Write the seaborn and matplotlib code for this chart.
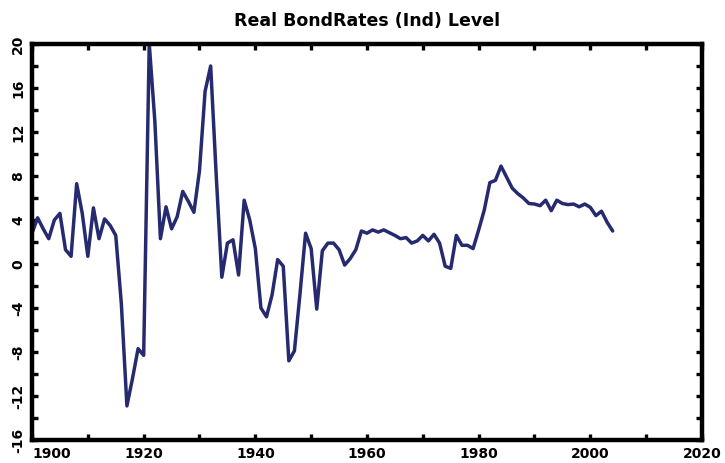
import numpy as np
import seaborn as sns
import matplotlib as mpl
import matplotlib.pyplot as plt
from matplotlib.ticker import MultipleLocator

years = list(range(1900, 2005))
rates = [
    2.8, 4.2, 3.2, 2.3, 4.0, 4.6, 1.3, 0.7, 7.3, 4.6,
    0.7, 5.1, 2.3, 4.1, 3.5, 2.6, -3.6, -12.9, -10.4, -7.7,
    -8.3, 20.0, 13.0, 2.3, 5.2, 3.2, 4.3, 6.6, 5.7, 4.7,
    8.5, 15.7, 18.0, 8.0, -1.2, 1.9, 2.2, -1.0, 5.8, 4.0,
    1.4, -4.0, -4.8, -2.8, 0.4, -0.2, -8.8, -7.9, -2.7, 2.8,
    1.4, -4.1, 1.2, 1.9, 1.9, 1.3, -0.1, 0.5, 1.3, 3.0,
    2.8, 3.1, 2.9, 3.1, 2.85, 2.6, 2.3, 2.4, 1.9, 2.1,
    2.6, 2.1, 2.7, 1.9, -0.2, -0.4, 2.6, 1.7, 1.7, 1.4,
    3.1, 4.9, 7.4, 7.6, 8.9, 7.9, 6.9, 6.4, 6.0, 5.5,
    5.45, 5.3, 5.8, 4.85, 5.8, 5.5, 5.4, 5.45, 5.2, 5.45,
    5.15, 4.4, 4.8, 3.8, 3.0,
]

x_labels = [1900, 1920, 1940, 1960, 1980, 2000, 2020]
y_labels = [-16, -12, -8, -4, 0, 4, 8, 12, 16, 20]


def main():
    sns.set_style('ticks')
    mpl.rcParams['font.family'] = ['DejaVu Sans']
    mpl.rcParams['font.weight'] = 'bold'
    mpl.rcParams['axes.unicode_minus'] = False
    mpl.rcParams['text.color'] = 'black'
    mpl.rcParams['xtick.labelcolor'] = 'black'
    mpl.rcParams['ytick.labelcolor'] = 'black'

    fig = plt.figure(figsize=(7.25, 4.63), dpi=100)
    ax = fig.add_axes([32 / 725, 1 - 440 / 463, 670 / 725, 396 / 463])

    sns.lineplot(x=years, y=rates, ax=ax, color='#262a6e', linewidth=2.5)

    ax.set_xlim(1900, 2020)
    ax.set_ylim(-16, 20)
    ax.set_xticks(x_labels)
    ax.xaxis.set_minor_locator(MultipleLocator(10))
    ax.set_yticks(y_labels)
    ax.yaxis.set_minor_locator(MultipleLocator(2))

    for side in ['left', 'right', 'top', 'bottom']:
        ax.spines[side].set_visible(True)
        ax.spines[side].set_linewidth(3.2)
        ax.spines[side].set_color('black')

    ax.tick_params(which='both', direction='in', top=True, right=True,
                   length=4, width=2.4, color='black', labelcolor='black')
    ax.tick_params(axis='x', labelsize=10, pad=5)
    ax.tick_params(axis='y', labelsize=10, pad=5)
    for lbl in ax.get_yticklabels():
        lbl.set_rotation(90)
        lbl.set_va('center')
        lbl.set_fontweight('bold')
    for lbl in ax.get_xticklabels():
        lbl.set_fontweight('bold')
    ax.get_xticklabels()[0].set_ha('left')

    ax.set_xlabel('')
    ax.set_ylabel('')
    ax.set_title('Real BondRates (Ind) Level', fontsize=12.5, fontweight='bold',
                 pad=13, color='black')

    fig.savefig('out.png', dpi=100)


if __name__ == '__main__':
    main()
